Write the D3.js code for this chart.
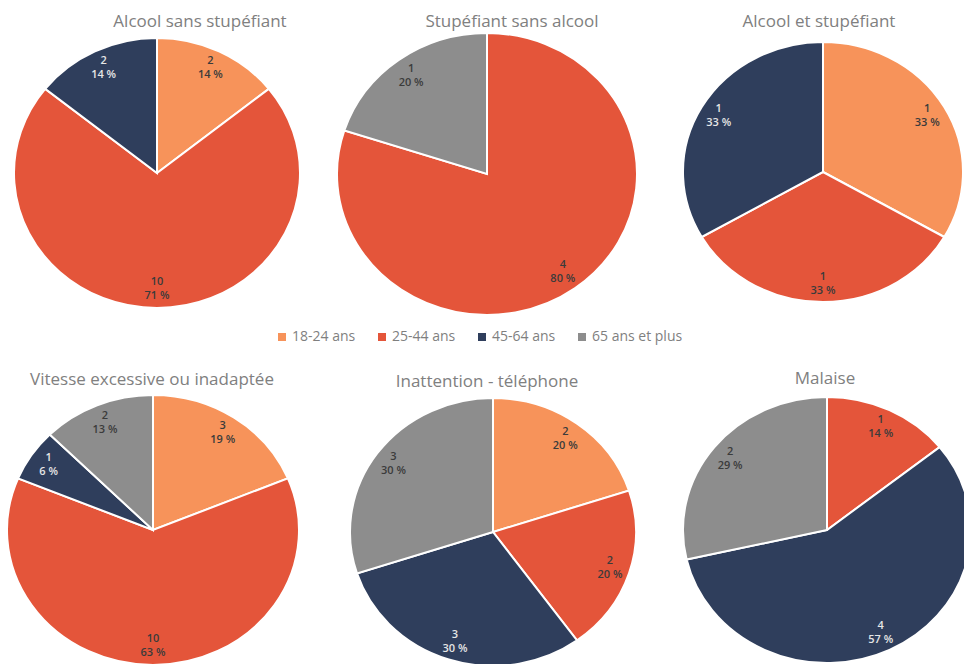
<!DOCTYPE html>
<html lang="fr">
<head>
<meta charset="utf-8">
<script src="https://cdn.jsdelivr.net/npm/d3@7/dist/d3.min.js"></script>
<style>
  html, body { margin: 0; padding: 0; background: #ffffff; }
  svg { display: block; }
</style>
</head>
<body>
<svg id="chart" width="964" height="664"></svg>
<script>
// Age groups (legend order = slice order, clockwise from 12 o'clock)
const ageGroups = ["18-24 ans", "25-44 ans", "45-64 ans", "65 ans et plus"];

// Titles of the six pies
const chartTitles = [
  "Alcool sans stupéfiant",
  "Stupéfiant sans alcool",
  "Alcool et stupéfiant",
  "Vitesse excessive ou inadaptée",
  "Inattention - téléphone",
  "Malaise"
];

// Counts per age group, one array per pie
const alcoolSansStupefiant = [2, 10, 2, 0];
const stupefiantSansAlcool = [0, 4, 0, 1];
const alcoolEtStupefiant   = [1, 1, 1, 0];
const vitesseExcessive     = [3, 10, 1, 2];
const inattentionTelephone = [2, 2, 3, 3];
const malaise              = [0, 1, 4, 2];

const seriesValues = [
  alcoolSansStupefiant, stupefiantSansAlcool, alcoolEtStupefiant,
  vitesseExcessive, inattentionTelephone, malaise
];

// Layout of each pie: centre, horizontal and vertical radii, title position
const layout = [
  { cx: 157, cy: 173, rx: 143, ry: 135, tx: 200, ty: 22 },
  { cx: 487, cy: 174, rx: 150, ry: 141, tx: 512, ty: 22 },
  { cx: 823, cy: 172, rx: 140, ry: 130, tx: 819, ty: 22 },
  { cx: 153, cy: 530, rx: 146, ry: 135, tx: 152, ty: 380 },
  { cx: 493, cy: 532, rx: 143, ry: 134, tx: 487, ty: 382 },
  { cx: 827, cy: 530, rx: 144, ry: 133, tx: 825, ty: 379 }
];

const color = d3.scaleOrdinal()
  .domain(ageGroups)
  .range(["#f7935a", "#e4553a", "#2f3e5c", "#8d8d8d"]);

const labelColor = d3.scaleOrdinal()
  .domain(ageGroups)
  .range(["#3b3b3b", "#3b3b3b", "#e6e6e6", "#3b3b3b"]);

const svg = d3.select("#chart");
const FONT = "'Open Sans', Lato, 'Liberation Sans', sans-serif";

const pie = d3.pie().sort(null).value(d => d.value);

seriesValues.forEach((vals, i) => {
  const L = layout[i];
  const data = ageGroups.map((g, k) => ({ group: g, value: vals[k] }));
  const total = d3.sum(vals);
  const arcs = pie(data).filter(a => a.data.value > 0);

  const arc = d3.arc().innerRadius(0).outerRadius(L.ry);

  // Title
  svg.append("text")
    .attr("x", L.tx).attr("y", L.ty)
    .attr("text-anchor", "middle")
    .attr("dominant-baseline", "middle")
    .attr("font-family", FONT)
    .attr("font-size", 17)
    .attr("fill", "#808080")
    .text(chartTitles[i]);

  // Slices (slightly stretched horizontally)
  const g = svg.append("g")
    .attr("transform", `translate(${L.cx},${L.cy}) scale(${L.rx / L.ry},1)`);

  g.selectAll("path")
    .data(arcs)
    .join("path")
    .attr("d", arc)
    .attr("fill", d => color(d.data.group))
    .attr("stroke", "#ffffff")
    .attr("stroke-width", 2)
    .attr("vector-effect", "non-scaling-stroke");

  // Value + percentage labels inside each slice (two stacked lines)
  const lab = svg.append("g");
  arcs.forEach(a => {
    const m = (a.startAngle + a.endAngle) / 2;
    const x = L.cx + Math.sin(m) * 0.86 * L.rx;
    const y = L.cy - Math.cos(m) * 0.86 * L.ry;
    const lines = [String(a.data.value), Math.round(a.data.value / total * 100) + " %"];
    lines.forEach((txt, j) => {
      lab.append("text")
        .attr("x", x)
        .attr("y", y - 7 + j * 14)
        .attr("text-anchor", "middle")
        .attr("dominant-baseline", "middle")
        .attr("font-family", FONT)
        .attr("font-size", 11)
        .attr("font-weight", 600)
        .attr("fill", labelColor(a.data.group))
        .text(txt);
    });
  });
});

// Legend
const legendX = [278, 378, 478, 578];
const legend = svg.append("g");
ageGroups.forEach((gName, k) => {
  legend.append("rect")
    .attr("x", legendX[k]).attr("y", 333)
    .attr("width", 8).attr("height", 8)
    .attr("fill", color(gName));
  legend.append("text")
    .attr("x", legendX[k] + 14).attr("y", 337)
    .attr("dominant-baseline", "middle")
    .attr("font-family", FONT)
    .attr("font-size", 14)
    .attr("fill", "#7f7f7f")
    .text(gName);
});
</script>
</body>
</html>
